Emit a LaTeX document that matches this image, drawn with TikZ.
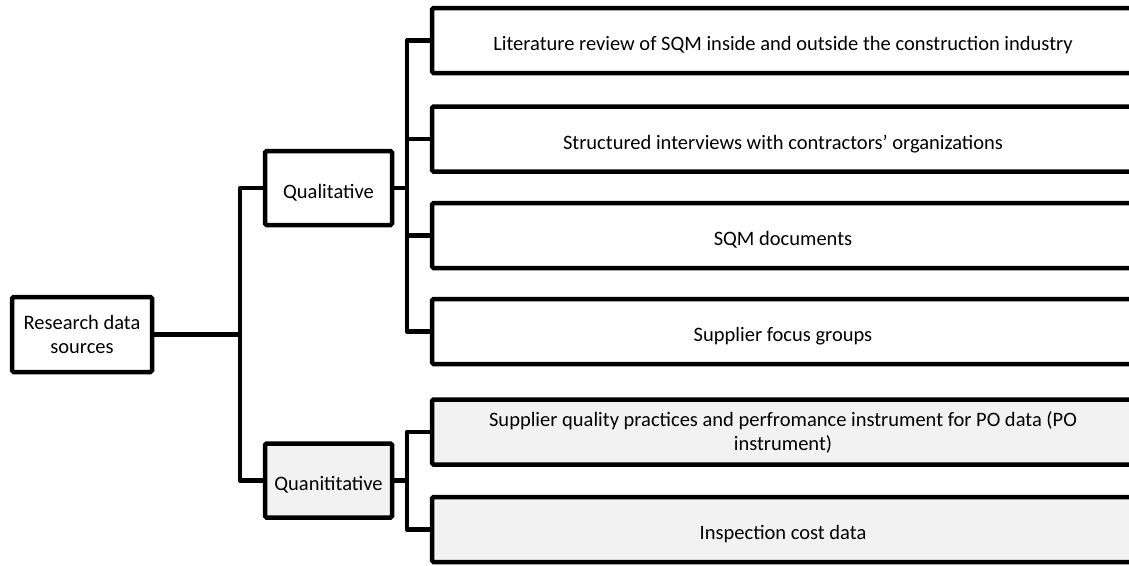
\documentclass[tikz,border=0pt]{standalone}
\usepackage{fontspec}
\setmainfont{Carlito}
\definecolor{lightfill}{HTML}{F2F2F2}
\begin{document}
\begin{tikzpicture}[x=1pt,y=-1pt,
  box/.style={draw=black, line width=4.5pt, rounded corners=1.5pt, fill=white, align=center, inner sep=2pt,
    font=\fontsize{20.5}{24}\selectfont},
  lowtext/.style={text height=24pt, text depth=4pt},
  src/.style={box, minimum width=702pt, minimum height=65pt},
  qsrc/.style={src, fill=lightfill},
  conn/.style={draw=black, line width=4.5pt, line join=round}]
\useasboundingbox (0,0) rectangle (1129,565);
\clip (0,0) rectangle (1129,565);
\coordinate (t1) at (240,334.5);
\coordinate (t2) at (407,188);
\coordinate (t3) at (407,480.5);
\draw[conn] (82,334.5) -- (t1);
\draw[conn] (328,188) -| (t1) |- (328,480.5);
\draw[conn] (328,188) -- (t2);
\draw[conn] (328,480.5) -- (t3);
\node[box, minimum width=140pt, minimum height=75pt] (root) at (82,334.5) {Research data\\sources};
\node[box, lowtext, minimum width=127pt, minimum height=74pt] (qual) at (328.5,188) {Qualitative};
\node[box, lowtext, fill=lightfill, minimum width=127pt, minimum height=74pt] (quant) at (328.5,480.5) {Quanititative};
\node[src, lowtext] (b1) at (783,40.5) {Literature review of SQM inside and outside the construction industry};
\node[src, lowtext] (b2) at (783,139) {Structured interviews with contractors’ organizations};
\node[src, lowtext] (b3) at (783,235.5) {SQM documents};
\node[src, lowtext] (b4) at (783,331.5) {Supplier focus groups};
\node[qsrc] (b5) at (783,432) {Supplier quality practices and perfromance instrument for PO data (PO\\instrument)};
\node[qsrc, lowtext] (b6) at (783,529.5) {Inspection cost data};
\draw[conn] (b1.west) -| (t2) |- (b4.west);
\draw[conn] (b2.west) -- (b2.west -| t2);
\draw[conn] (b3.west) -- (b3.west -| t2);
\draw[conn] (b5.west) -| (t3) |- (b6.west);
\end{tikzpicture}
\end{document}
